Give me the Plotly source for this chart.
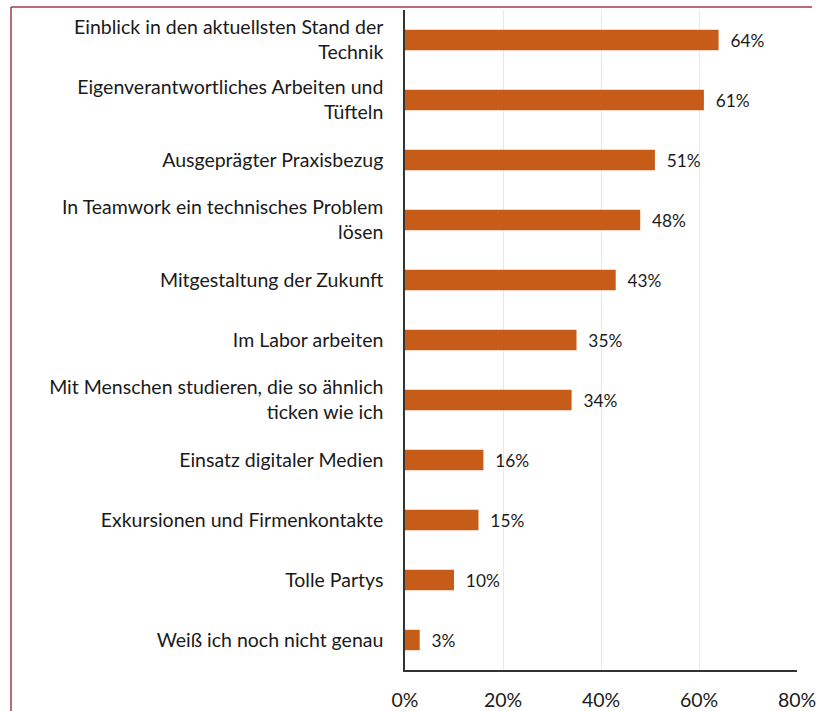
import plotly.graph_objects as go

categories = [
    "Einblick in den aktuellsten Stand der<br>Technik",
    "Eigenverantwortliches Arbeiten und<br>Tüfteln",
    "Ausgeprägter Praxisbezug",
    "In Teamwork ein technisches Problem<br>lösen",
    "Mitgestaltung der Zukunft",
    "Im Labor arbeiten",
    "Mit Menschen studieren, die so ähnlich<br>ticken wie ich",
    "Einsatz digitaler Medien",
    "Exkursionen und Firmenkontakte",
    "Tolle Partys",
    "Weiß ich noch nicht genau",
]
values = [64, 61, 51, 48, 43, 35, 34, 16, 15, 10, 3]
x_tickvals = [0, 20, 40, 60, 80]
x_ticktext = ["0%", "20%", "40%", "60%", "80%"]

FONT = "Lato"
TEXT = "#1a1a1a"
BAR = "#c75b18"
FS = 19.5

fig = go.Figure(
    go.Bar(
        y=categories,
        x=values,
        orientation="h",
        marker=dict(color=BAR, line=dict(width=0)),
        width=0.34,
        text=[f"\u00a0\u00a0{v}%" for v in values],
        textposition="outside",
        textfont=dict(family=FONT, size=FS, color=TEXT),
        cliponaxis=False,
        hoverinfo="skip",
    )
)

fig.update_layout(
    width=816,
    height=711,
    margin=dict(l=405, r=19, t=10, b=41, autoexpand=False),
    paper_bgcolor="white",
    plot_bgcolor="white",
    showlegend=False,
    font=dict(family=FONT, size=FS, color=TEXT),
    xaxis=dict(
        range=[0, 80],
        tickvals=x_tickvals,
        ticktext=x_ticktext,
        showgrid=True,
        gridcolor="#e8e8e8",
        gridwidth=1,
        zeroline=False,
        showline=True,
        linecolor="#333333",
        linewidth=1.5,
        ticks="",
        automargin=False,
        ticklabelstandoff=12,
        ticklabeloverflow="allow",
        tickfont=dict(family=FONT, size=FS, color=TEXT),
    ),
    yaxis=dict(
        autorange="reversed",
        showline=True,
        linecolor="#333333",
        linewidth=1.5,
        showgrid=False,
        ticks="",
        automargin=False,
        ticklabelstandoff=16,
        tickfont=dict(family=FONT, size=FS, color=TEXT),
    ),
    shapes=[
        dict(type="line", xref="paper", yref="paper",
             x0=(11 - 405) / 392, x1=(812 - 405) / 392,
             y0=1 + 3 / 660, y1=1 + 3 / 660,
             line=dict(color="#a33a45", width=1.5)),
        dict(type="line", xref="paper", yref="paper",
             x0=(11 - 405) / 392, x1=(11 - 405) / 392,
             y0=1 + 3 / 660, y1=-41 / 660 - 0.01,
             line=dict(color="#a33a45", width=1.5)),
    ],
)

fig.write_html(
    "out.html",
    config={"displayModeBar": False},
    post_script="document.body.style.margin='0';",
)
